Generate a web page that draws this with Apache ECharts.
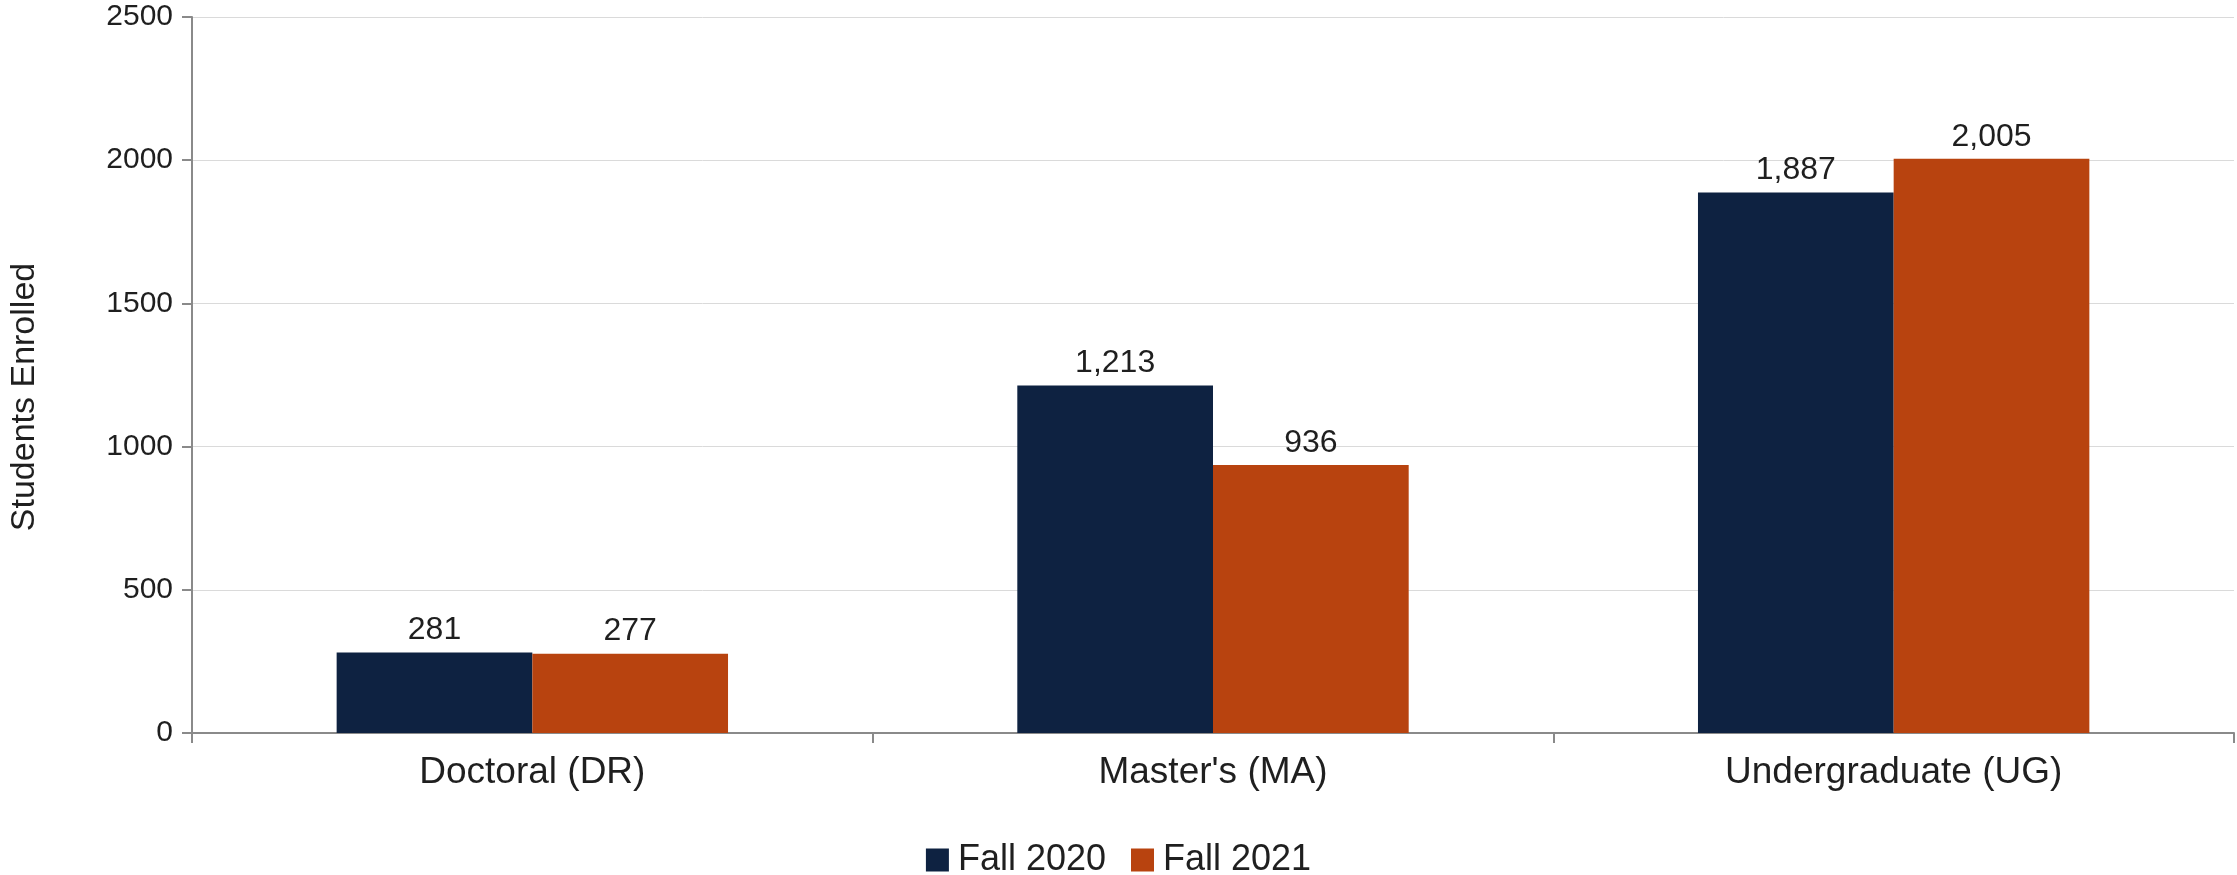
<!DOCTYPE html>
<html>
<head>
<meta charset="utf-8">
<title>Students Enrolled by Level</title>
<script src="https://cdn.jsdelivr.net/npm/echarts@6/dist/echarts.min.js"></script>
<style>
  html, body { margin: 0; padding: 0; background: #ffffff; }
  #chart { width: 2237px; height: 875px; }
</style>
</head>
<body>
<div id="chart"></div>
<script>
// Enrollment by degree level, two fall terms
const categories = ["Doctoral (DR)", "Master's (MA)", "Undergraduate (UG)"];
const fall2020 = [281, 1213, 1887];
const fall2021 = [277, 936, 2005];
const seriesNames = ["Fall 2020", "Fall 2021"];
const yTicks = { min: 0, max: 2500, step: 500 };

const FONT = '"Liberation Sans", Arial, sans-serif';
const TEXT = '#1f1f1f';
const AXIS = '#8a8a8a';

// bar labels use thousands separators, axis ticks do not
const fmt = v => Number(v).toLocaleString('en-US');

const barLabel = {
  show: true,
  position: 'top',
  distance: 6,
  color: TEXT,
  fontFamily: FONT,
  fontSize: 32,
  formatter: p => fmt(p.value)
};

const chart = echarts.init(document.getElementById('chart'), null, { renderer: 'canvas' });
chart.setOption({
  animation: false,
  backgroundColor: '#ffffff',
  textStyle: { fontFamily: FONT, color: TEXT },
  grid: { left: 188, right: 3, top: 17, bottom: 142, containLabel: false },
  legend: {
    top: 837,
    left: 'center',
    itemWidth: 23,
    itemHeight: 23,
    itemGap: 25,
    icon: 'rect',
    textStyle: { fontFamily: FONT, fontSize: 36, color: TEXT, padding: [0, 0, 0, 4] },
    data: seriesNames
  },
  xAxis: {
    type: 'category',
    data: categories,
    axisLine: { show: true, lineStyle: { color: AXIS, width: 2 } },
    axisTick: { show: true, alignWithLabel: false, length: 10, lineStyle: { color: AXIS, width: 2 } },
    axisLabel: { margin: 21, fontFamily: FONT, fontSize: 37, color: TEXT },
    splitLine: { show: false }
  },
  yAxis: {
    type: 'value',
    min: yTicks.min,
    max: yTicks.max,
    interval: yTicks.step,
    name: 'Students Enrolled',
    nameLocation: 'middle',
    nameGap: 150,
    nameRotate: 90,
    nameTextStyle: { fontFamily: FONT, fontSize: 34, color: TEXT, padding: [0, 44, 0, 0] },
    axisLine: { show: true, lineStyle: { color: AXIS, width: 2 } },
    axisTick: { show: true, length: 10, lineStyle: { color: AXIS, width: 2 } },
    axisLabel: { margin: 19, fontFamily: FONT, fontSize: 30, color: TEXT, formatter: v => String(v) },
    splitLine: { show: true, lineStyle: { color: '#dadada', width: 1 } }
  },
  series: [
    {
      name: seriesNames[0],
      type: 'bar',
      data: fall2020,
      barGap: '0%',
      barCategoryGap: '42.5%',
      itemStyle: { color: '#0e2241' },
      label: barLabel
    },
    {
      name: seriesNames[1],
      type: 'bar',
      data: fall2021,
      itemStyle: { color: '#b8430f' },
      label: barLabel
    }
  ]
});
</script>
</body>
</html>
